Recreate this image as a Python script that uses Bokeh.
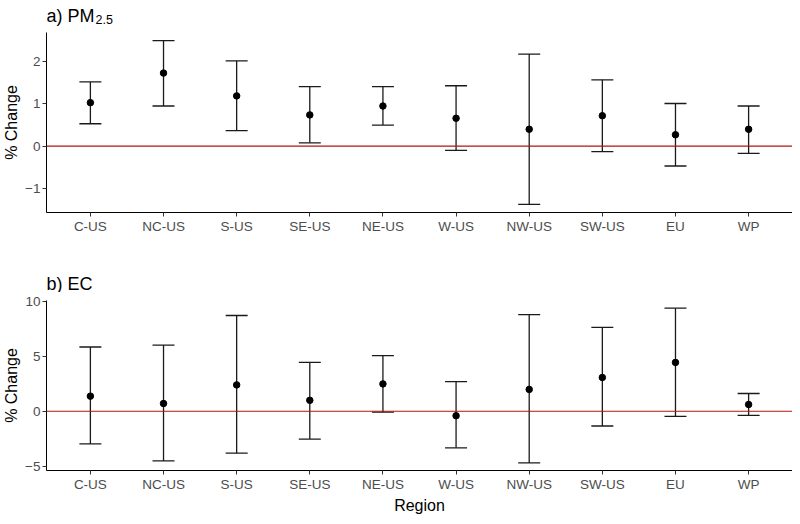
from bokeh.plotting import figure
from bokeh.models import ColumnDataSource, Whisker, TeeHead, FixedTicker, Range1d, Span
from bokeh.core.properties import value
from bokeh.layouts import column
from bokeh.embed import file_html
from bokeh.resources import INLINE

regions = ["C-US", "NC-US", "S-US", "SE-US", "NE-US", "W-US", "NW-US", "SW-US", "EU", "WP"]
xpos = list(range(1, len(regions) + 1))

pm_mean = [1.03, 1.73, 1.19, 0.74, 0.95, 0.66, 0.40, 0.72, 0.27, 0.40]
pm_upper = [1.52, 2.50, 2.02, 1.41, 1.41, 1.43, 2.18, 1.57, 1.01, 0.95]
pm_lower = [0.53, 0.95, 0.37, 0.08, 0.50, -0.10, -1.38, -0.13, -0.47, -0.17]

ec_mean = [1.37, 0.70, 2.39, 0.99, 2.48, -0.41, 1.98, 3.06, 4.43, 0.61]
ec_upper = [5.83, 6.00, 8.69, 4.43, 5.04, 2.68, 8.77, 7.61, 9.35, 1.61]
ec_lower = [-2.97, -4.51, -3.81, -2.53, -0.09, -3.32, -4.69, -1.34, -0.46, -0.38]

pm_yticks = [-1, 0, 1, 2]
ec_yticks = [-5, 0, 5, 10]

FONT = "Liberation Sans"
TICK_COLOR = "#4D4D4D"
BAR_COLOR = "#1a1a1a"
ZERO_COLOR = "#B3140F"
W = 792
XR = (0.4, 10.6)


def header(height, parts):
    h = figure(width=W, height=height, output_backend="svg", toolbar_location=None,
               x_range=Range1d(*XR), y_range=Range1d(0, height),
               x_axis_type=None, y_axis_type=None, min_border=0)
    h.outline_line_color = None
    h.background_fill_color = "white"
    h.border_fill_color = "white"
    for (dx, y, txt, size) in parts:
        h.text(x=[XR[0]], y=[y], x_offset=dx, text=[txt], text_font=value(FONT),
               text_font_size=size, text_color="black", text_baseline="alphabetic",
               text_align="left")
    return h


def make_panel(mean, upper, lower, yr, yticks, height, top, bottom, xlabel):
    p = figure(width=W, height=height, output_backend="svg", toolbar_location=None,
               x_range=Range1d(*XR), y_range=Range1d(*yr),
               min_border_left=37, min_border_right=0, min_border_top=top,
               min_border_bottom=bottom)
    p.outline_line_color = None
    p.grid.grid_line_color = None
    p.background_fill_color = "white"
    p.border_fill_color = "white"

    src = ColumnDataSource(dict(x=xpos, m=mean, up=upper, lo=lower))
    p.add_layout(Span(location=0, dimension="width", line_color=ZERO_COLOR, line_width=1.2))
    w = Whisker(base="x", upper="up", lower="lo", source=src,
                line_color=BAR_COLOR, line_width=1.3,
                upper_head=TeeHead(size=22, line_color=BAR_COLOR, line_width=1.3),
                lower_head=TeeHead(size=22, line_color=BAR_COLOR, line_width=1.3))
    p.add_layout(w)
    p.scatter("x", "m", source=src, size=6.5, color="black")

    for ax in (p.xaxis[0], p.yaxis[0]):
        ax.axis_line_color = "black"
        ax.axis_line_width = 1
        ax.major_tick_line_color = "#333333"
        ax.major_tick_out = 4
        ax.major_tick_in = 0
        ax.minor_tick_line_color = None
        ax.major_label_text_font = FONT
        ax.major_label_text_font_size = "13.5px"
        ax.major_label_text_color = TICK_COLOR
        ax.major_label_standoff = 2
        ax.axis_label_text_font = FONT
        ax.axis_label_text_font_size = "16px"
        ax.axis_label_text_font_style = "normal"
        ax.axis_label_text_color = "black"
        ax.axis_label_standoff = 2

    p.xaxis.ticker = FixedTicker(ticks=xpos)
    p.xaxis.major_label_overrides = {x: r for x, r in zip(xpos, regions)}
    p.yaxis.ticker = FixedTicker(ticks=yticks)
    p.yaxis.axis_label = "% Change"
    if xlabel:
        p.xaxis.axis_label = xlabel
    return p


h1 = header(30, [(0, 15, "a) PM", "18px"), (49, 11, "2.5", "12.5px")])
p1 = make_panel(pm_mean, pm_upper, pm_lower, (-1.57, 2.69), pm_yticks, 212, 2, 30, None)
h2 = header(50, [(0, 9, "b) EC", "18px")])
p2 = make_panel(ec_mean, ec_upper, ec_lower, (-5.38, 10.05), ec_yticks, 224, 8, 46, "Region")

layout = column(h1, p1, h2, p2, spacing=0)
open("out.html", "w").write(file_html(layout, INLINE))
